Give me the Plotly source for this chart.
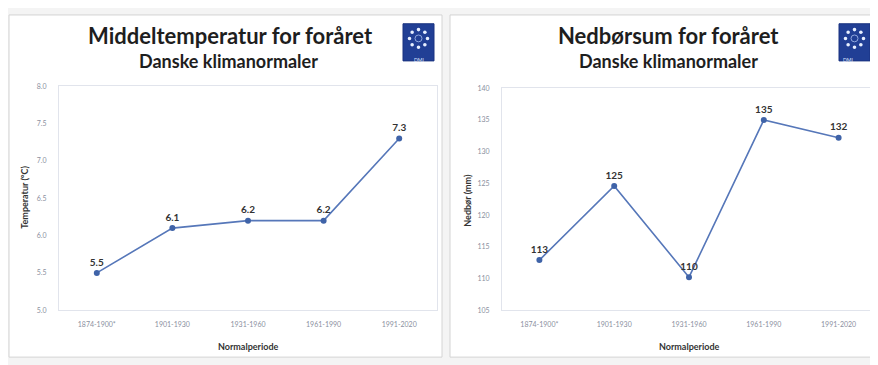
import math
import plotly.graph_objects as go

# The page body has an 8px margin, so the figure is laid out in viewport pixels minus 8.
OFF = 8
W, H = 870, 357

periods = ["1874-1900*", "1901-1930", "1931-1960", "1961-1990", "1991-2020"]
temp_values = [5.5, 6.1, 6.2, 6.2, 7.3]
precip_values = [112.9, 124.6, 110.2, 135.0, 132.2]

temp_ticks = [5.0, 5.5, 6.0, 6.5, 7.0, 7.5, 8.0]
precip_ticks = [105, 110, 115, 120, 125, 130, 135, 140]

left_title = "Middeltemperatur for foråret"
right_title = "Nedbørsum for foråret"
subtitle = "Danske klimanormaler"
temp_axis_title = "Temperatur (°C)"
precip_axis_title = "Nedbør (mm)"
x_axis_title = "Normalperiode"


def px(x):
    return (x - OFF) / W


def py(y):
    return 1 - (y - OFF) / H


LINE = "#5677b9"
MARK = "#3f63a8"
FONT = "Lato"

fig = go.Figure()
fig.add_trace(go.Scatter(
    x=periods, y=temp_values, mode="lines+markers+text",
    text=[f"{v:.1f}" for v in temp_values], textposition="top center",
    textfont=dict(family=FONT, size=10, color="#333333", weight="bold"),
    line=dict(color=LINE, width=1.6), marker=dict(color=MARK, size=6),
    cliponaxis=False, xaxis="x", yaxis="y", showlegend=False))
fig.add_trace(go.Scatter(
    x=periods, y=precip_values, mode="lines+markers+text",
    text=[f"{v:.0f}" for v in precip_values], textposition="top center",
    textfont=dict(family=FONT, size=10, color="#333333", weight="bold"),
    line=dict(color=LINE, width=1.6), marker=dict(color=MARK, size=6),
    cliponaxis=False, xaxis="x2", yaxis="y2", showlegend=False))

axis_common = dict(showgrid=False, zeroline=False, showline=True, mirror=True,
                   linecolor="#e1e4ec", linewidth=1,
                   tickfont=dict(family=FONT, size=7, color="#8b90a0"))

fig.update_layout(
    width=W, height=H, margin=dict(l=0, r=0, t=0, b=0),
    paper_bgcolor="#f4f4f4", plot_bgcolor="rgba(0,0,0,0)",
    xaxis=dict(domain=[px(59), px(437)], type="category", range=[-0.5, 4.5],
               ticklabelstandoff=7, **axis_common),
    yaxis=dict(domain=[py(312), py(83)], range=[5, 8], tickvals=temp_ticks,
               tickformat=".1f", ticklabelstandoff=10, anchor="x", **axis_common),
    xaxis2=dict(domain=[px(502), px(876)], type="category", range=[-0.5, 4.5],
                ticklabelstandoff=7, anchor="y2", **axis_common),
    yaxis2=dict(domain=[py(312), py(85)], range=[105, 140], tickvals=precip_ticks,
                ticklabelstandoff=10, anchor="x2", **axis_common),
)

shapes = []
# panels
for x0, x1 in [(9, 442), (450, 876)]:
    shapes.append(dict(type="rect", xref="paper", yref="paper", x0=px(x0), x1=px(x1),
                       y0=py(360), y1=py(10), fillcolor="white",
                       line=dict(color="#d4d4d4", width=1), layer="below"))

annotations = []


def logo(x0, y0, w=31, h=38):
    shapes.append(dict(type="rect", xref="paper", yref="paper", x0=px(x0), x1=px(x0 + w),
                       y0=py(y0 + h), y1=py(y0), fillcolor="#213f95",
                       line=dict(color="#1a3380", width=1)))
    cx, cy = x0 + w / 2, y0 + 15
    r = 9
    for k in range(8):
        a = k * math.pi / 4
        dx, dy = cx + r * math.cos(a), cy + r * math.sin(a)
        shapes.append(dict(type="circle", xref="paper", yref="paper",
                           x0=px(dx - 1.8), x1=px(dx + 1.8), y0=py(dy + 1.8), y1=py(dy - 1.8),
                           fillcolor="#e8f0ff", line=dict(width=0)))
    shapes.append(dict(type="circle", xref="paper", yref="paper",
                       x0=px(cx - 3.5), x1=px(cx + 3.5), y0=py(cy + 3.5), y1=py(cy - 3.5),
                       fillcolor="rgba(0,0,0,0)", line=dict(color="#8fa6dd", width=1)))
    annotations.append(dict(x=px(cx), y=py(y0 + 32), xref="paper", yref="paper",
                            text="DMI", showarrow=False,
                            font=dict(family=FONT, size=5, color="#dfe6ff")))


logo(403, 19)
logo(839, 19)


def ann(x, y, text, size, color="#1e1e1e", angle=0):
    annotations.append(dict(x=px(x), y=py(y), xref="paper", yref="paper", text=text,
                            showarrow=False, textangle=angle, xanchor="center", yanchor="middle",
                            font=dict(family=FONT, size=size, color=color, weight="bold")))


ann(230, 31, left_title, 22)
ann(228, 57, subtitle, 18)
ann(668, 31, right_title, 22)
ann(668, 57, subtitle, 18)
ann(25, 197, temp_axis_title, 9, "#333333", -90)
ann(468, 200, precip_axis_title, 9, "#333333", -90)
ann(248, 349, x_axis_title, 9, "#333333")
ann(689, 349, x_axis_title, 9, "#333333")

fig.update_layout(shapes=shapes, annotations=annotations)
fig.write_html("out.html")
